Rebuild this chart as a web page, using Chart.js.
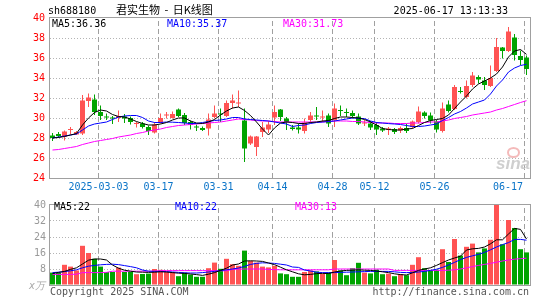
<!DOCTYPE html>
<html>
<head>
<meta charset="utf-8">
<script src="https://cdn.jsdelivr.net/npm/chart.js@4.4.0/dist/chart.umd.min.js"></script>
<style>
body{margin:0;width:545px;height:300px;background:#fff;position:relative;overflow:hidden;font-family:"DejaVu Sans Mono",monospace;}
canvas{position:absolute;left:0;}
#kline{top:0;}
#vol{top:195px;}
.t{position:absolute;white-space:nowrap;font-size:10px;line-height:10px;}
#ojo{position:absolute;left:507px;top:147px;width:9px;height:7px;border:2px solid rgba(235,130,130,0.55);border-radius:50%;}
</style>
</head>
<body>
<canvas id="kline" width="545" height="195"></canvas>
<canvas id="vol" width="545" height="105"></canvas>

<div class="t" style="left:48px;top:6px;">sh688180</div>
<div class="t" style="left:116px;top:4px;font-family:'Noto Sans CJK SC';font-size:11px;line-height:11px;word-spacing:2px;">君实生物 - 日K线图</div>
<div class="t" style="right:37px;top:6px;">2025-06-17 13:13:33</div>
<div class="t" style="left:52px;top:19px;color:#000;">MA5:36.36</div>
<div class="t" style="left:167px;top:19px;color:#0000ff;">MA10:35.37</div>
<div class="t" style="left:283px;top:19px;color:#ff00ff;">MA30:31.73</div>
<div class="t" style="left:54px;top:202px;color:#000;">MA5:22</div>
<div class="t" style="left:175px;top:202px;color:#0000ff;">MA10:22</div>
<div class="t" style="left:295px;top:202px;color:#ff00ff;">MA30:13</div>
<div class="t" style="left:29px;top:281px;color:#aaa;font-style:italic;">x万</div>
<div class="t" style="left:50px;top:287px;color:#555;">Copyright 2025 SINA.COM</div>
<div class="t" style="right:16px;top:287px;color:#555;">http://finance.sina.com.cn</div>
<div id="ojo"></div>
<div class="t" style="left:496px;top:155px;color:#cfcfcf;font-family:'Liberation Sans';font-weight:bold;font-style:italic;font-size:17px;line-height:17px;">sina</div>

<script>
// 日期刻度
const dateLabels = ["2025-03-03", "03-17", "03-31", "04-14", "04-28", "05-12", "05-26", "06-17"];
const dateIndex = [8, 18, 28, 37, 47, 54, 64, 79];
const priceTicks = [24, 26, 28, 30, 32, 34, 36, 38, 40];
const volTicks = [0, 8, 16, 24, 32, 40];

const openP = [28.25,28.4,28.15,28.8,28.35,28.45,31.7,31.85,30.6,30.1,
  30.0,30.0,30.15,30.0,29.4,29.45,29.1,28.55,29.5,30.25,
  30.0,30.85,30.3,29.6,29.1,29.0,28.95,30.1,30.4,30.2,
  31.5,31.45,29.75,27.45,27.1,28.6,28.85,30.05,30.85,29.95,
  29.05,29.05,28.7,29.8,30.2,30.05,30.25,29.8,30.75,30.55,
  30.5,30.15,29.45,29.45,29.3,28.95,28.8,28.9,28.75,29.0,
  29.1,29.6,30.55,30.25,29.65,28.7,31.35,30.9,32.7,32.1,
  33.3,34.1,33.75,33.2,34.7,37.05,36.7,38.05,36.2,36.05];
const highP = [28.5,28.6,28.75,29.1,28.7,32.3,32.45,32.35,31.25,30.45,
  30.2,30.75,30.4,30.15,29.6,29.6,29.25,29.6,30.45,30.6,
  30.65,30.95,30.5,29.75,29.35,29.15,30.45,31.25,30.95,31.75,
  32.35,32.75,30.95,28.25,28.2,29.6,29.7,31.25,30.9,30.1,
  29.3,29.45,29.95,30.6,31.1,30.75,30.45,31.45,31.25,30.95,
  30.75,30.45,29.8,29.7,29.6,29.1,29.1,29.0,29.15,29.45,
  29.75,31.15,30.67,30.55,29.8,31.55,31.75,33.3,33.1,33.75,
  34.6,34.27,34.1,35.25,38.0,37.1,39.1,38.4,36.75,36.25];
const lowP = [27.7,28.0,27.75,28.35,28.3,28.3,31.1,30.3,29.8,29.8,
  29.4,29.6,29.5,29.35,29.05,28.95,28.3,28.45,29.45,29.95,
  29.95,30.1,29.3,28.85,28.7,28.7,28.25,29.95,29.6,30.1,
  30.95,31.1,25.6,27.3,26.2,28.1,28.5,29.3,29.7,28.8,
  28.75,28.45,28.45,29.45,29.8,29.6,29.1,29.1,30.2,30.1,
  29.95,29.3,29.2,28.8,28.3,28.6,28.3,28.4,28.5,28.5,
  28.95,29.45,29.95,29.45,28.55,28.55,30.55,30.8,32.45,31.95,
  33.1,33.45,32.8,33.1,34.6,35.95,36.6,35.75,35.3,34.3];
const closeP = [28.0,28.2,28.65,28.85,28.6,31.75,32.05,30.6,30.2,30.05,
  29.95,30.2,29.95,29.6,29.45,29.1,28.7,29.35,30.0,30.3,
  30.4,30.2,29.5,29.3,29.05,28.8,29.85,30.45,30.35,31.5,
  31.75,31.5,26.95,28.15,28.15,29.05,29.35,30.6,30.1,29.6,
  28.9,28.85,29.55,30.25,30.15,30.1,29.45,30.95,30.7,30.5,
  30.2,29.45,29.5,29.05,28.85,28.75,28.95,28.6,29.0,28.7,
  29.65,30.65,30.2,29.75,28.85,30.95,30.7,33.1,32.6,33.2,
  34.25,33.85,33.3,34.0,37.1,36.7,38.65,36.3,35.8,34.9];

const ma5 = [28.0,28.05,28.15,28.3,28.45,29.3,30.0,30.55,30.8,30.7,
  30.35,30.15,30.1,29.9,29.65,29.45,29.3,29.3,29.4,29.55,
  29.8,30.0,30.0,29.7,29.5,29.45,29.6,29.85,30.3,30.7,
  31.0,31.1,30.75,30.25,29.6,28.9,28.3,29.0,29.5,29.6,
  29.55,29.45,29.45,29.55,29.6,29.7,29.75,29.95,30.1,30.1,
  30.05,30.0,29.85,29.6,29.3,28.95,28.85,28.8,28.8,28.9,
  28.95,29.25,29.55,29.75,29.85,29.95,30.3,30.95,31.6,32.2,
  32.9,33.4,33.7,34.0,34.4,35.1,36.1,36.7,36.85,36.36];
const ma10 = [28.0,28.1,28.2,28.3,28.4,28.8,29.2,29.4,29.5,29.6,
  29.85,30.1,30.2,30.25,30.25,30.05,29.7,29.55,29.55,29.6,
  29.58,29.55,29.5,29.45,29.45,29.55,29.65,29.75,29.8,29.9,
  30.05,30.05,29.9,29.85,29.8,29.75,29.7,29.6,29.5,29.4,
  29.15,29.25,29.3,29.45,29.55,29.6,29.65,29.7,29.8,29.9,
  30.0,29.97,29.94,29.7,29.55,29.5,29.44,29.4,29.35,29.25,
  29.15,29.15,29.2,29.3,29.4,29.75,30.05,30.4,30.65,31.0,
  31.4,31.6,31.8,32.4,33.2,33.8,34.6,35.0,35.25,35.37];
const ma30 = [26.8,26.85,26.95,27.05,27.15,27.35,27.5,27.65,27.75,27.85,
  27.95,28.1,28.2,28.3,28.45,28.55,28.7,28.8,28.9,29.05,
  29.15,29.25,29.3,29.35,29.4,29.45,29.5,29.55,29.6,29.7,
  29.8,29.9,29.85,29.8,29.75,29.7,29.7,29.65,29.6,29.6,
  29.6,29.6,29.6,29.6,29.6,29.6,29.65,29.7,29.7,29.7,
  29.65,29.65,29.6,29.55,29.5,29.5,29.5,29.45,29.45,29.45,
  29.5,29.5,29.55,29.6,29.6,29.7,29.8,29.95,30.05,30.15,
  30.3,30.4,30.5,30.6,30.8,30.95,31.15,31.35,31.55,31.73];

// 成交量(万手)
const vol = [6.2,6.2,10.1,9.2,7.3,19.6,16.0,13.1,9.2,6.5,
  6.5,8.7,6.5,6.5,5.4,5.5,5.7,8.0,7.6,6.5,
  6.5,4.4,6.2,5.2,4.1,4.1,8.4,11.2,8.1,13.1,
  10.4,9.6,17.2,12.0,11.2,9.2,8.8,9.6,5.8,5.4,
  4.1,4.1,6.5,7.3,6.8,5.5,6.2,12.5,7.3,4.9,
  8.4,11.1,6.2,5.8,7.7,5.4,5.7,4.4,5.5,4.9,
  10.1,13.9,8.4,7.3,7.7,17.9,11.5,23.0,14.7,19.1,
  20.7,16.3,18.3,22.6,40.0,20.4,32.5,28.5,17.9,16.3];
const vma5 = [5.7,6.3,6.8,7.8,8.6,10.5,12.4,13.0,13.0,12.5,
  10.0,8.4,7.4,6.9,6.5,6.4,6.3,6.4,6.6,6.5,
  6.2,5.9,5.8,5.5,5.2,4.8,5.4,6.2,7.3,8.4,
  10.0,10.5,12.0,12.1,12.0,11.8,11.0,10.2,8.9,7.6,
  6.6,5.6,5.1,5.3,5.7,5.8,5.7,6.5,7.0,7.3,
  7.4,7.6,7.4,7.3,7.0,6.6,6.2,5.6,5.2,5.0,
  6.1,7.3,8.0,8.6,9.8,11.2,12.5,13.5,14.4,17.5,
  18.1,18.3,19.0,20.6,22.6,22.6,25.5,28.3,27.8,23.0];
const vma10 = [6.2,6.4,6.7,7.1,7.6,8.6,9.4,9.8,10.1,10.3,
  10.4,10.2,9.7,9.2,8.6,7.5,6.9,6.8,6.8,6.7,
  6.5,6.3,6.1,6.0,6.0,6.2,6.5,6.8,7.2,7.6,
  8.0,8.5,9.3,10.3,10.8,11.1,11.0,10.8,10.4,10.0,
  9.0,8.8,7.5,7.0,6.4,6.2,6.2,6.2,6.3,6.4,
  6.5,6.6,6.7,6.8,6.8,6.8,6.8,6.6,6.3,6.2,
  6.3,6.5,6.8,7.3,7.9,8.8,10.0,11.3,12.7,13.8,
  14.6,15.3,16.3,17.6,19.0,20.2,21.2,22.8,22.8,22.4];
const vma30 = [5.3,5.3,5.3,5.3,5.4,6.2,6.2,6.2,6.2,6.3,
  6.9,6.9,6.9,6.9,6.9,6.9,6.9,7.0,7.2,7.2,
  7.2,7.2,7.2,7.2,7.2,7.2,7.2,7.2,7.1,7.1,
  7.8,7.9,8.0,8.0,8.0,8.0,7.8,7.7,7.6,7.6,
  7.6,7.6,7.6,7.6,7.6,7.6,7.6,8.0,8.0,8.0,
  8.0,8.0,8.0,8.0,8.0,8.0,8.0,7.3,7.3,7.3,
  7.3,7.3,7.3,7.3,7.3,7.3,7.4,7.6,8.0,8.6,
  9.2,9.8,10.3,10.8,11.4,12.0,12.5,12.9,13.2,13.4];

const RED = "#ff5353";
const GREEN = "#00a400";
const GRID = "#b4b4b4";
const VGRID = "#a0a0a0";
const CLEAR = "rgba(0,0,0,0)";
const MONO = "DejaVu Sans Mono";

// 每根K线占6px, 中心落在半像素上
const xMin = -2.5 / 6;
const xMax = xMin + 80;
const gridAt = dateIndex.map((i) => i - 2 / 6);
// 最后一个日期文字往左挪
const labelAt = gridAt.slice();
labelAt[labelAt.length - 1] -= 2.75;

const idx = closeP.map((_, i) => i);
const colores = idx.map((i) => (closeP[i] >= openP[i] ? RED : GREEN));
const pts = (arr) => arr.map((v, i) => ({ x: i, y: v }));

const linea = (arr, color) => ({
  type: "line",
  data: pts(arr),
  borderColor: color,
  borderWidth: 1,
  pointRadius: 0,
  tension: 0,
  xAxisID: "x",
  yAxisID: "y",
  order: 0,
});

// 日期竖虚线: 每条从坐标轴底到顶, 用 null 断开
const guias = (lo, hi) => {
  const data = [];
  gridAt.forEach((g) => {
    data.push({ x: g, y: lo }, { x: g, y: hi }, { x: g, y: null });
  });
  return {
    type: "line",
    data,
    borderColor: VGRID,
    borderWidth: 1,
    borderDash: [5, 3],
    pointRadius: 0,
    spanGaps: false,
    xAxisID: "x",
    yAxisID: "y",
    order: 5,
  };
};

const marco = {
  id: "marco",
  afterDraw(chart) {
    const { ctx, chartArea: a } = chart;
    ctx.save();
    ctx.strokeStyle = "#a0a0a0";
    ctx.lineWidth = 1;
    ctx.strokeRect(a.left - 0.5, a.top - 0.5, a.right - a.left + 1, a.bottom - a.top + 1);
    ctx.restore();
  },
};

const ejeFechas = (alto, conTexto) => ({
  type: "linear",
  position: "bottom",
  min: xMin,
  max: xMax,
  offset: false,
  afterBuildTicks: (axis) => {
    axis.ticks = labelAt.map((v) => ({ value: v }));
  },
  ticks: {
    autoSkip: false,
    maxRotation: 0,
    minRotation: 0,
    padding: 3,
    color: "#0a74c8",
    font: { family: MONO, size: 10 },
    callback: (v, i) => (conTexto ? dateLabels[i] : ""),
  },
  grid: { display: false, drawTicks: false, offset: false },
  border: { display: false },
  afterFit: (s) => { s.height = alto; },
});

const gridY = (lo, hi) => ({
  color: (c) => (c.tick && (c.tick.value === lo || c.tick.value === hi) ? CLEAR : GRID),
  drawTicks: false,
  lineWidth: 1,
});

new Chart(document.getElementById("kline"), {
  type: "bar",
  data: {
    datasets: [
      linea(ma5, "#000000"),
      linea(ma10, "#0000ff"),
      linea(ma30, "#ff00ff"),
      {
        type: "bar",
        data: idx.map((i) => ({ x: i, y: [lowP[i], highP[i]] })),
        backgroundColor: colores,
        barThickness: 1,
        grouped: false,
        inflateAmount: 0,
        xAxisID: "x",
        yAxisID: "y",
        order: 2,
      },
      {
        type: "bar",
        data: idx.map((i) => ({ x: i, y: [openP[i], closeP[i]] })),
        backgroundColor: colores,
        barThickness: 5,
        minBarLength: 1,
        grouped: false,
        inflateAmount: 0,
        xAxisID: "x",
        yAxisID: "y",
        order: 1,
      },
      guias(24, 40),
    ],
  },
  options: {
    responsive: false,
    animation: false,
    layout: { padding: { top: 18, right: 15, left: 0, bottom: 0 } },
    plugins: { legend: { display: false }, tooltip: { enabled: false } },
    scales: {
      x: ejeFechas(17, true),
      y: {
        min: 24,
        max: 40,
        afterBuildTicks: (axis) => {
          axis.ticks = priceTicks.map((v) => ({ value: v }));
        },
        ticks: { color: "#ff0000", padding: 5, font: { family: MONO, size: 10 } },
        grid: gridY(24, 40),
        border: { display: false, dash: [1, 2] },
        afterFit: (s) => { s.width = 50; },
      },
    },
  },
  plugins: [marco],
});

new Chart(document.getElementById("vol"), {
  type: "bar",
  data: {
    datasets: [
      linea(vma5, "#000000"),
      linea(vma10, "#0000ff"),
      linea(vma30, "#ff00ff"),
      {
        type: "bar",
        data: pts(vol),
        backgroundColor: colores,
        barThickness: 5,
        grouped: false,
        inflateAmount: 0,
        xAxisID: "x",
        yAxisID: "y",
        order: 1,
      },
      guias(0, 40),
    ],
  },
  options: {
    responsive: false,
    animation: false,
    layout: { padding: { top: 6, right: 15, left: 0, bottom: 0 } },
    plugins: { legend: { display: false }, tooltip: { enabled: false } },
    scales: {
      x: ejeFechas(15, false),
      y: {
        min: 0,
        max: 40,
        afterBuildTicks: (axis) => {
          axis.ticks = volTicks.map((v) => ({ value: v }));
        },
        ticks: {
          color: "#999999",
          padding: 4,
          font: { family: MONO, size: 10 },
          callback: (v) => (v === 0 ? "" : v),
        },
        grid: gridY(0, 40),
        border: { display: false, dash: [1, 2] },
        afterFit: (s) => { s.width = 50; },
      },
    },
  },
  plugins: [marco],
});
</script>
</body>
</html>
